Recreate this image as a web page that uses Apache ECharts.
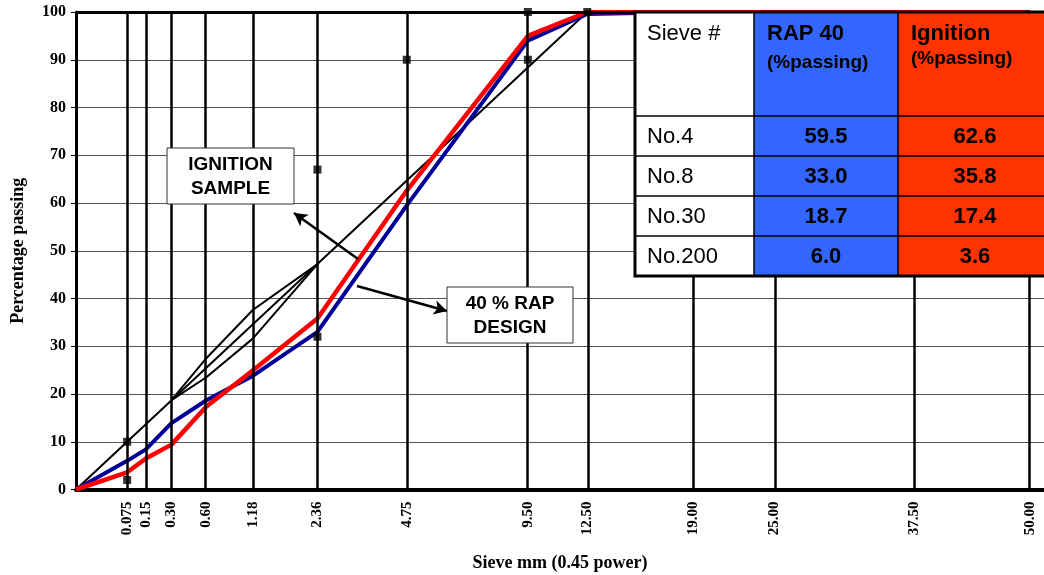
<!DOCTYPE html>
<html>
<head>
<meta charset="utf-8">
<script src="https://cdn.jsdelivr.net/npm/echarts@6/dist/echarts.min.js"></script>
<style>
  html, body { margin: 0; padding: 0; background: #fff; }
  #chart { width: 1044px; height: 575px; }
</style>
</head>
<body>
<div id="chart"></div>
<script>
// Sieve sizes (mm) shown on the 0.45-power axis
const sieveLabels = ['0.075', '0.15', '0.30', '0.60', '1.18', '2.36', '4.75', '9.50', '12.50', '19.00', '25.00', '37.50', '50.00'];
const sieveSizes  = [0.075, 0.15, 0.30, 0.60, 1.18, 2.36, 4.75, 9.50, 12.50, 19.00, 25.00, 37.50, 50.00];

// Gradation curves (% passing)
const curveSieves     = [0, 0.075, 0.15, 0.30, 0.60, 1.18, 2.36, 4.75, 9.50, 12.50, 19.00, 25.00, 37.50, 50.00];
const rap40Passing    = [0, 6.0, 8.4, 13.9, 18.7, 23.8, 33.0, 59.5, 94.0, 99.6, 100, 100, 100, 100];
const ignitionPassing = [0, 3.6, 6.5, 9.4, 17.4, 24.9, 35.8, 62.6, 95.0, 100, 100, 100, 100, 100];

// Maximum density line
const maxDensitySieves  = [0, 12.50];
const maxDensityPassing = [0, 100];

// Restricted zone boundaries
const zoneSieves = [0.30, 0.60, 1.18, 2.36];
const zoneUpper  = [18.7, 27.5, 37.6, 47.2];
const zoneLower  = [18.7, 23.5, 31.6, 47.2];

// Control points
const controlSieves  = [0.075, 0.075, 2.36, 2.36, 4.75, 9.50, 9.50, 12.50];
const controlPassing = [2, 10, 32, 67, 90, 90, 100, 100];

// Summary table
const tableRowNames = ['No.4', 'No.8', 'No.30', 'No.200'];
const tableSieves   = [4.75, 2.36, 0.60, 0.075];

const pos = s => Math.pow(s, 0.45);
const pairs = (xs, ys) => xs.map((s, i) => [pos(s), ys[i]]);
const valueAt = (arr, s) => arr[curveSieves.indexOf(s)];

const serif = 'Liberation Serif';
const sans = 'Liberation Sans';

const chart = echarts.init(document.getElementById('chart'), null, { renderer: 'canvas' });

// ---- table drawn as graphic elements ----
const TZ = 100;
const T = { left: 635, top: 12, colW: [119, 144, 154], headH: 104, rowH: 40 };
const colX = [T.left, T.left + T.colW[0], T.left + T.colW[0] + T.colW[1]];
const tableRight = colX[2] + T.colW[2];
const tableBottom = T.top + T.headH + T.rowH * tableRowNames.length;
const blueFill = '#3366FF', redFill = '#FF3300';
const tableEls = [];
const fullH = tableBottom - T.top;
tableEls.push({ type: 'rect', z: TZ, shape: { x: colX[0], y: T.top, width: T.colW[0], height: fullH }, style: { fill: '#fff' } });
tableEls.push({ type: 'rect', z: TZ, shape: { x: colX[1], y: T.top, width: T.colW[1], height: fullH }, style: { fill: blueFill } });
tableEls.push({ type: 'rect', z: TZ, shape: { x: colX[2], y: T.top, width: T.colW[2], height: fullH }, style: { fill: redFill } });
// inner rules
for (let r = 0; r < tableRowNames.length; r++) {
  const y = T.top + T.headH + r * T.rowH;
  tableEls.push({ type: 'line', z: TZ + 1, shape: { x1: colX[0], y1: y, x2: tableRight, y2: y }, style: { stroke: '#000', lineWidth: 1.5 } });
}
[colX[1], colX[2]].forEach(x => tableEls.push({ type: 'line', z: TZ + 1, shape: { x1: x, y1: T.top, x2: x, y2: tableBottom }, style: { stroke: '#000', lineWidth: 1.5 } }));
// outer border
tableEls.push({ type: 'rect', z: TZ + 2, shape: { x: colX[0], y: T.top, width: tableRight - colX[0], height: fullH }, style: { fill: 'none', stroke: '#000', lineWidth: 3 } });
// header text
function tText(x, y, text, font, align) {
  tableEls.push({ type: 'text', z: TZ + 3, style: { x: x, y: y, text: text, font: font, fill: '#000', textAlign: align || 'left', textVerticalAlign: 'middle' } });
}
tText(colX[0] + 12, T.top + 22, 'Sieve #', '22px ' + sans);
tText(colX[1] + 13, T.top + 22, 'RAP 40', 'bold 22px ' + sans);
tText(colX[1] + 13, T.top + 51, '(%passing)', 'bold 19px ' + sans);
tText(colX[2] + 13, T.top + 22, 'Ignition', 'bold 22px ' + sans);
tText(colX[2] + 13, T.top + 47, '(%passing)', 'bold 19px ' + sans);
// body rows
tableRowNames.forEach((name, r) => {
  const cy = T.top + T.headH + r * T.rowH + T.rowH / 2 + 1;
  const s = tableSieves[r];
  tText(colX[0] + 12, cy, name, '22px ' + sans);
  tText(colX[1] + T.colW[1] / 2, cy, valueAt(rap40Passing, s).toFixed(1), 'bold 22px ' + sans, 'center');
  tText(colX[2] + T.colW[2] / 2, cy, valueAt(ignitionPassing, s).toFixed(1), 'bold 22px ' + sans, 'center');
});

// ---- callout boxes ----
function callout(x, y, w, h, lines) {
  return [
    { type: 'rect', z: 50, shape: { x: x, y: y, width: w, height: h }, style: { fill: '#fff', stroke: '#333', lineWidth: 1 } },
    { type: 'text', z: 51, style: { x: x + w / 2, y: y + h / 2 + 1, text: lines.join('\n'), font: 'bold 19px ' + sans, lineHeight: 24, fill: '#000', textAlign: 'center', textVerticalAlign: 'middle' } }
  ];
}

const option = {
  animation: false,
  backgroundColor: '#fff',
  grid: { left: 76, right: 0, top: 12, bottom: 85.5, containLabel: false, outerBoundsMode: 'none' },
  xAxis: {
    type: 'value',
    min: 0,
    max: 5.9,
    name: 'Sieve mm (0.45 power)',
    nameLocation: 'middle',
    nameGap: 65,
    nameTextStyle: { fontFamily: serif, fontWeight: 'bold', fontSize: 18, color: '#000' },
    axisLine: { show: true, onZero: false, lineStyle: { color: '#000', width: 4 } },
    axisTick: { show: false },
    splitLine: { show: false },
    axisLabel: {
      customValues: sieveSizes.map(pos),
      rotate: 90,
      margin: 12,
      fontFamily: serif,
      fontWeight: 'bold',
      fontSize: 15,
      color: '#000',
      formatter: v => {
        const i = sieveSizes.findIndex(s => Math.abs(pos(s) - v) < 1e-6);
        return i >= 0 ? sieveLabels[i] : '';
      }
    }
  },
  yAxis: {
    type: 'value',
    min: 0,
    max: 100,
    interval: 10,
    name: 'Percentage passing',
    nameLocation: 'middle',
    nameGap: 49,
    nameTextStyle: { fontFamily: serif, fontWeight: 'bold', fontSize: 18, color: '#000' },
    axisLine: { show: true, lineStyle: { color: '#000', width: 3 } },
    axisTick: { show: true, length: 5, lineStyle: { color: '#000', width: 1 } },
    axisLabel: { margin: 10, fontFamily: serif, fontWeight: 'bold', fontSize: 16, color: '#000' },
    splitLine: { show: true, lineStyle: { color: '#555', width: 1 } }
  },
  series: [
    {
      // sieve grid lines and frame
      name: 'sieves',
      type: 'line',
      data: [],
      z: 1,
      silent: true,
      markLine: {
        silent: true,
        symbol: ['none', 'none'],
        label: { show: false },
        lineStyle: { color: '#000', width: 2.5, type: 'solid' },
        data: sieveSizes.map(s => ({ xAxis: pos(s) }))
          .concat([
            { yAxis: 100, lineStyle: { color: '#000', width: 3, type: 'solid' } },
            { xAxis: 5.897, lineStyle: { color: '#888', width: 1, type: 'solid' } }
          ])
      }
    },
    {
      name: 'Maximum density',
      type: 'line',
      data: pairs(maxDensitySieves, maxDensityPassing),
      symbol: 'none',
      z: 2,
      lineStyle: { color: '#000', width: 2 },
      markLine: {
        silent: true,
        symbol: ['none', 'arrow'],
        symbolSize: [11, 13],
        label: { show: false },
        lineStyle: { color: '#000', width: 2.5, type: 'solid' },
        data: [
          [{ x: 358, y: 259 }, { x: 294, y: 213 }],
          [{ x: 357, y: 286 }, { x: 447, y: 311 }]
        ]
      }
    },
    {
      name: 'Restricted zone upper',
      type: 'line',
      data: pairs(zoneSieves, zoneUpper),
      symbol: 'none',
      z: 2,
      lineStyle: { color: '#000', width: 2 }
    },
    {
      name: 'Restricted zone lower',
      type: 'line',
      data: pairs(zoneSieves, zoneLower),
      symbol: 'none',
      z: 2,
      lineStyle: { color: '#000', width: 2 }
    },
    {
      name: 'RAP 40',
      type: 'line',
      data: pairs(curveSieves, rap40Passing),
      symbol: 'none',
      z: 3,
      lineStyle: { color: '#000099', width: 4 }
    },
    {
      name: 'Ignition',
      type: 'line',
      data: pairs(curveSieves, ignitionPassing),
      symbol: 'none',
      z: 4,
      lineStyle: { color: '#FF0000', width: 4.5 }
    },
    {
      name: 'Control points',
      type: 'scatter',
      data: pairs(controlSieves, controlPassing),
      symbol: 'rect',
      symbolSize: 8,
      z: 5,
      itemStyle: { color: '#000' }
    }
  ],
  graphic: tableEls
    .concat(callout(167, 148, 127, 56, ['IGNITION', 'SAMPLE']))
    .concat(callout(447, 287, 126, 56, ['40 % RAP', 'DESIGN']))
};

chart.setOption(option);
</script>
</body>
</html>
